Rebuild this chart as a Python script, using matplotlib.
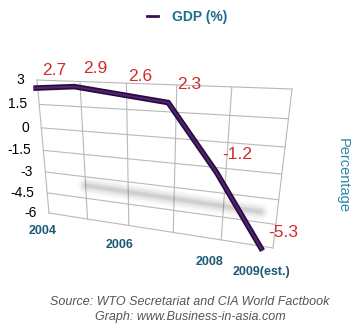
#!/usr/bin/env python3
"""GDP growth 2004-2009 drawn as a tilted 3D-style line chart."""

import numpy as np
import matplotlib

matplotlib.use("Agg")
import matplotlib.pyplot as plt
from matplotlib.transforms import Transform, Affine2D
from matplotlib.lines import Line2D

# ---- data -------------------------------------------------------------
years = ["2004", "2005", "2006", "2007", "2008", "2009(est.)"]
gdp = [2.7, 2.9, 2.6, 2.3, -1.2, -5.3]
shown_years = ["2004", "2006", "2008", "2009(est.)"]
y_ticks = [3, 1.5, 0, -1.5, -3, -4.5, -6]
y_tick_labels = ["3", "1.5", "0", "-1.5", "-3", "-4.5", "-6"]

# shadow of the line on the wall (decoration)
shadow_x = [1.0, 4.7]
shadow_y = [-3.6, -3.85]

W, H = 361, 330
plt.rcParams["font.family"] = ["Liberation Sans", "DejaVu Sans"]


def homography(src, dst):
    a, b = [], []
    for (x, y), (u, v) in zip(src, dst):
        a.append([x, y, 1, 0, 0, 0, -u * x, -u * y])
        b.append(u)
        a.append([0, 0, 0, x, y, 1, -v * x, -v * y])
        b.append(v)
    h = np.linalg.solve(np.array(a, float), np.array(b, float))
    return np.append(h, 1.0).reshape(3, 3)


class Perspective(Transform):
    """(category index, value) -> image pixel (y down)."""
    input_dims = output_dims = 2

    def __init__(self, m):
        super().__init__()
        self.m = m

    def transform_non_affine(self, xy):
        xy = np.asarray(xy, float).reshape(-1, 2)
        p = np.column_stack([xy, np.ones(len(xy))]) @ self.m.T
        return p[:, :2] / p[:, 2:3]


n = len(years)
ymin, ymax = min(y_ticks), max(y_ticks)
box = [(0, ymax), (n - 1, ymax), (0, ymin), (n - 1, ymin)]
# back wall (grid) and the plane the line sits in, slightly in front
wall_px = [(37, 80), (292, 89), (49, 213), (273, 248)]
front_px = [(33, 83), (283, 94), (43, 221), (261, 262)]

fig = plt.figure(figsize=(W / 100, H / 100), dpi=100, facecolor="white")
ax = fig.add_axes([0, 0, 1, 1])
ax.set_xlim(0, W)
ax.set_ylim(H, 0)
ax.axis("off")

wall = Perspective(homography(box, wall_px)) + ax.transData
front = Perspective(homography(box, front_px)) + ax.transData


def shifted(tr, dx, dy):
    return tr + Affine2D().translate(dx, -dy)


# grid on the back wall
grid_kw = dict(color="#b9b9b9", lw=0.8, transform=wall, zorder=1)
for i in range(n):
    ax.plot([i, i], [ymin, ymax], **grid_kw)
for v in y_ticks:
    ax.plot([0, n - 1], [v, v], **grid_kw)

for v, lab in zip(y_ticks, y_tick_labels):
    ax.text(0, v, lab, transform=shifted(wall, -12.5, 0), ha="right",
            va="center", fontsize=10, color="black")

# soft shadow
for lw, al in [(16, 0.04), (12, 0.06), (8, 0.08), (4, 0.12)]:
    ax.plot(shadow_x, shadow_y, color="#555555", lw=lw * 0.72, alpha=al,
            solid_capstyle="round", transform=wall, zorder=2)

# the line
xs = np.arange(n)
ax.plot(xs, gdp, color="#2a0b3d", lw=4.0, transform=front, zorder=3,
        solid_joinstyle="miter", solid_capstyle="butt")
ax.plot(xs, gdp, color="#4f2474", lw=1.5, transform=front, zorder=4,
        solid_joinstyle="miter", solid_capstyle="butt")

for i, v in enumerate(gdp):
    ax.text(i, v, f"{v:g}", transform=shifted(front, 21, -18), ha="center",
            va="center", fontsize=12.5, color="#d42a2a", zorder=5)

for lab in shown_years:
    i = years.index(lab)
    ax.text(i, ymin, lab, transform=shifted(front, 0, 10), ha="center",
            va="center", fontsize=9, fontweight="bold", color="#1d5a78")

ax.text(343, 175, "Percentage", rotation=270, ha="center", va="center",
        fontsize=10.5, color="#2b87aa")

handle = Line2D([], [], color="#3a1050", lw=2.0)
fig.legend([handle], ["GDP (%)"], loc="center", bbox_to_anchor=(0.519, 0.948),
           frameon=False, handlelength=0.8, handletextpad=1.0,
           prop={"size": 10, "weight": "bold"}, labelcolor="#1c6e8c")

ax.text(190, 302, "Source: WTO Secretariat and CIA World Factbook", ha="center",
        va="center", fontsize=9, style="italic", color="#555555")
ax.text(190, 317, "Graph: www.Business-in-asia.com", ha="center",
        va="center", fontsize=9, style="italic", color="#555555")

fig.savefig("out.png", dpi=100, facecolor="white")
